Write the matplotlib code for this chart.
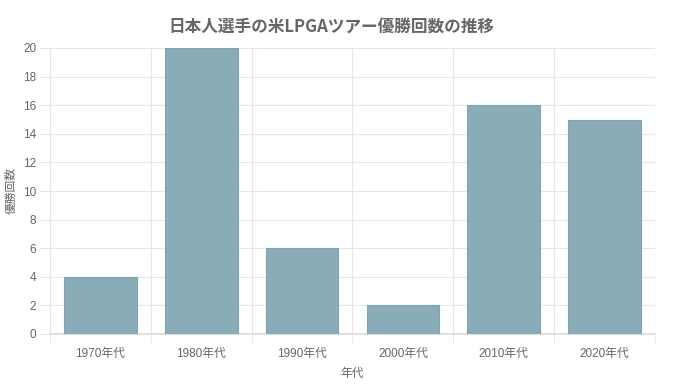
import matplotlib
matplotlib.use("Agg")
import matplotlib.pyplot as plt
import numpy as np

plt.rcParams['font.family'] = ['Liberation Sans', 'Noto Sans CJK JP', 'DejaVu Sans']

decades = ["1970年代", "1980年代", "1990年代", "2000年代", "2010年代", "2020年代"]
wins = [4, 20, 6, 2, 16, 15]

grid_color = "#e6e6e6"
text_color = "#666666"

fig = plt.figure(figsize=(6.8, 3.86), dpi=100)
ax = fig.add_axes([50 / 680, 52 / 386, 605 / 680, 286 / 386])

x = np.arange(len(decades))
ax.bar(x, wins, width=0.72, color="#8aacb8", edgecolor="#7fa3b0", linewidth=0.8, zorder=3)

ax.set_xlim(-0.5, len(decades) - 0.5)
ax.set_ylim(0, 20)
ax.set_yticks(np.arange(0, 21, 2))
ax.set_xticks(x)
ax.set_xticklabels(decades)
ax.set_xticks(np.arange(-0.5, len(decades), 1), minor=True)

ax.tick_params(axis="x", which="major", length=0, pad=10, labelsize=8.5, colors=text_color)
ax.tick_params(axis="x", which="minor", length=7, color=grid_color)
ax.tick_params(axis="y", length=7, color=grid_color, labelsize=8.5, labelcolor=text_color, pad=3)

ax.grid(True, axis="y", color=grid_color, linewidth=0.8, zorder=0)
ax.grid(True, axis="x", which="minor", color=grid_color, linewidth=0.8, zorder=0)

for side in ["top", "right"]:
    ax.spines[side].set_visible(False)
ax.spines["left"].set_color(grid_color)
ax.spines["bottom"].set_color("#d9d9d9")
ax.spines["bottom"].set_linewidth(1.2)

ax.set_xlabel("年代", fontsize=8.5, color=text_color, labelpad=6)
ax.set_ylabel("優勝回数", fontsize=8.5, color=text_color, labelpad=4)
fig.text(0.488, 0.928, "日本人選手の米LPGAツアー優勝回数の推移", ha="center", va="center",
         fontsize=12, fontweight="bold", color=text_color, family="Noto Sans CJK JP")

fig.savefig("out.png", dpi=100)
